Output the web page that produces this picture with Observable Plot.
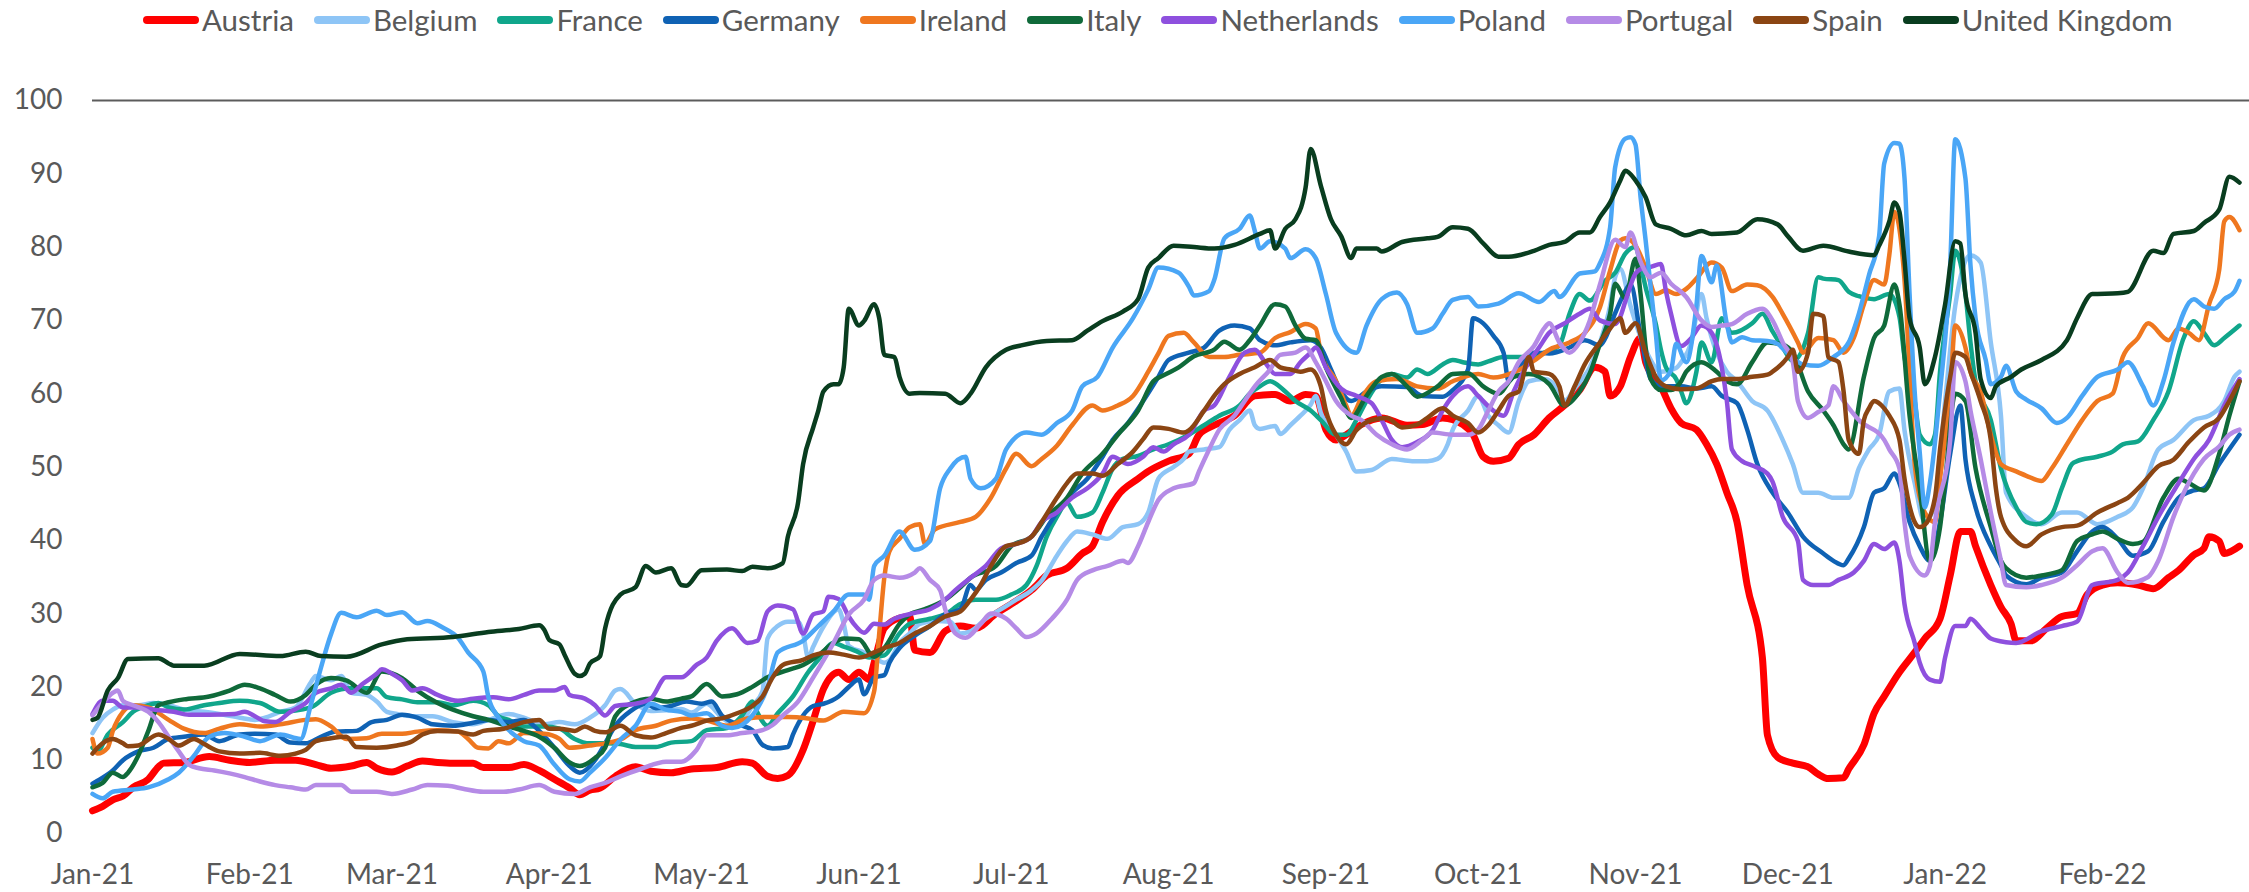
<!DOCTYPE html>
<html><head><meta charset="utf-8">
<script src="https://cdn.jsdelivr.net/npm/d3@7"></script>
<script src="https://cdn.jsdelivr.net/npm/@observablehq/plot@0.6"></script>
<style>
body{margin:0;background:#fff;width:2249px;height:892px;overflow:hidden;font-family:Lato,"Open Sans",sans-serif;}
#legend{height:40px;display:flex;align-items:center;gap:20px;padding-left:143px;box-sizing:border-box;}
.item{display:flex;align-items:center;font-size:29.5px;color:#595959;white-space:nowrap;line-height:40px;}
.sw{width:56px;height:8px;border-radius:4px;margin-right:3px;}
</style></head><body>
<div id="legend"></div><div id="chart"></div>
<script>
// Day offsets from 1 Jan 2021, value
const austria = [[0,3.1],[2,3.7],[4,4.6],[6,5.1],[8,6.3],[11,7.4],[13,9.1],[14,9.6],[18,9.7],[23,10.5],[27,10],[31,9.7],[36,10],[40,10],[44,9.4],[47,8.9],[51,9.2],[54,9.7],[56,8.9],[59,8.4],[62,9.2],[65,9.9],[68,9.7],[71,9.6],[75,9.6],[77,9],[82,9],[85,9.4],[88,8.6],[91,7.4],[94,6.2],[96,5.3],[98,5.9],[100,6.2],[103,7.8],[107,9.1],[110,8.5],[114,8.3],[118,8.8],[123,9],[128,9.8],[130,9.6],[133,7.8],[135,7.5],[137,7.9],[140,11.4],[142,15.4],[144,19.7],[147,22],[149,21],[151,22],[153,21],[154,23.3],[156,28],[159,29.4],[161,29.6],[162,25],[165,24.7],[168,27.6],[171,28.3],[174,28],[178,30],[181,31.3],[185,33.2],[188,35.2],[192,36.2],[195,38.2],[197,39.2],[199,42.5],[202,46.1],[206,48.4],[208,49.4],[212,50.8],[216,51.8],[218,54.4],[221,55.7],[225,57],[229,59.7],[233,59.9],[236,59],[239,59.9],[241,59.7],[243,55.1],[245,53.7],[247,54.4],[250,55.8],[254,56.7],[259,55.7],[262,55.8],[266,56.7],[270,55.8],[272,54.4],[274,51.4],[276,50.8],[279,51.2],[281,53.1],[284,54.4],[287,56.7],[290,58.4],[293,60.5],[296,63.6],[298,63],[299,59.7],[301,61],[303,65],[305,67.6],[306,64.3],[309,61],[311,58],[313,56],[316,55.1],[318,53.1],[320,50.4],[322,46.5],[324,42.5],[326,33.9],[329,24],[330,13.4],[332,10.4],[335,9.6],[338,9.1],[340,8.1],[342,7.5],[345,7.6],[346,8.8],[349,12.1],[351,16.4],[353,18.7],[356,22],[359,24.7],[361,26.6],[364,29.3],[366,35.2],[368,41.2],[370,41.2],[371,39.2],[374,33.9],[376,30.9],[378,28.6],[379,26.3],[382,26.3],[385,28],[388,29.6],[391,30],[393,32.6],[396,33.9],[399,34.2],[403,33.9],[406,33.4],[409,34.9],[411,35.9],[414,38],[416,38.9],[417,40.5],[419,39.9],[420,38.2],[423,39.2]];
const belgium = [[0,13.7],[2,15.8],[4,16.9],[6,17.5],[9,17.5],[12,17.8],[15,17.5],[18,16.9],[22,16.6],[25,16.3],[29,15.8],[32,15.5],[34,15.8],[37,16.6],[40,17.2],[43,20.6],[44,21.5],[47,20.9],[49,21.5],[51,19.2],[54,18.9],[56,18],[58,16.6],[60,16.3],[63,16],[67,16],[71,15.2],[75,14.9],[78,15.5],[82,16.3],[85,15.8],[89,14.9],[92,15.2],[95,14.9],[98,15.8],[101,17.5],[103,19.5],[104,19.7],[107,17.7],[110,16.7],[113,16.8],[116,17],[118,16.5],[121,17.7],[124,15.8],[127,14.7],[130,17.4],[132,19.4],[133,26.6],[135,28.3],[137,28.9],[139,28.9],[140,27.3],[141,24],[142,25.5],[144,28.2],[147,30.6],[148,28.6],[149,25.6],[152,24.7],[154,24],[156,23.3],[157,23.6],[159,26],[161,27.3],[163,28.6],[166,29],[169,28.9],[171,27.3],[173,27.6],[176,29.3],[179,30.6],[182,31.9],[185,33.2],[187,34.5],[190,37.9],[192,39.9],[194,41.2],[197,40.8],[200,40.2],[203,41.8],[206,42.2],[208,43.8],[210,48.4],[213,50],[215,51.1],[216,52.1],[219,52.4],[222,52.7],[224,55.1],[226,56.4],[228,57.7],[229,55.7],[230,55.2],[233,55.6],[234,54.5],[236,55.7],[238,57],[240,58.5],[241,59.7],[242,57.4],[245,54.4],[247,52.1],[249,49.4],[252,49.6],[256,51.1],[260,50.8],[263,50.8],[265,51.1],[267,53.1],[268,55.1],[271,57.7],[273,59.7],[275,57],[277,55.7],[279,54.7],[281,59],[283,61.7],[286,62],[289,60.3],[290,59],[292,60.7],[295,63.6],[297,67],[299,72],[300,75.9],[301,77],[303,72],[306,66],[309,63],[312,63.5],[313,64.3],[315,67],[317,73.6],[318,70.3],[320,65.6],[322,63],[324,61.7],[327,59],[330,57.7],[333,53.7],[335,50.4],[337,46.5],[340,46.5],[343,45.8],[346,45.8],[348,49.8],[350,52.4],[352,54.4],[354,60.3],[356,60.7],[357,55],[359,47.8],[361,42.5],[363,45.1],[365,59],[367,72],[370,78.9],[372,77.9],[374,67],[376,57],[377,46.5],[381,43.2],[384,42.2],[388,43.8],[391,43.8],[395,42.2],[399,43.2],[402,44.5],[404,47.1],[407,52.4],[410,53.7],[414,56.4],[417,57],[420,59],[422,62.3],[423,63]];
const france = [[0,11.7],[1,11.2],[3,13.5],[6,15.2],[8,16.6],[11,17.5],[13,17.8],[15,17.2],[18,16.9],[22,17.5],[25,17.8],[29,18.1],[33,17.8],[37,16.6],[43,17.2],[47,19.2],[51,19.8],[56,19.8],[58,18.6],[61,18.3],[64,17.9],[68,17.9],[71,17.5],[75,18.1],[78,17.5],[80,16],[82,15.5],[85,14.6],[89,14.6],[92,14.3],[95,12.9],[98,12.3],[101,12.3],[104,12.2],[107,11.8],[111,11.8],[114,12.4],[118,12.6],[121,14.1],[125,14.4],[128,16.1],[130,18],[131,16.5],[133,14.7],[135,16.4],[138,18.7],[141,22],[143,23.7],[146,26],[148,25.5],[151,24.7],[153,24],[156,24.3],[159,27.3],[161,28.6],[165,29.3],[168,29.9],[171,31.3],[174,31.9],[178,31.9],[181,32.6],[184,33.9],[186,36.5],[188,40.5],[190,43.2],[192,45.1],[194,43.2],[197,43.8],[199,46.5],[201,49.8],[203,51.1],[206,51.5],[209,52.4],[212,53.1],[216,54.4],[219,55.7],[222,57],[226,58.4],[228,60],[230,61],[232,61.7],[235,60.3],[237,59],[240,57.7],[242,56.4],[245,54.4],[247,54.4],[249,56.4],[251,59],[254,62],[256,62.7],[259,62.2],[261,63.3],[263,62.7],[266,64],[268,64.6],[270,64.3],[273,64],[275,64.4],[278,65],[283,65],[286,65.6],[289,66.6],[291,70.9],[293,73.6],[295,72.7],[298,75.4],[300,76.5],[302,79.1],[304,80],[305,77.5],[306,74.5],[308,69.5],[309,66],[310,63.6],[312,62],[313,60.3],[314,58.7],[316,63],[317,67],[319,64.3],[321,70.3],[323,68.3],[327,69.6],[329,70.9],[331,68.5],[333,66.3],[335,64.5],[338,68.3],[340,75.9],[341,75.7],[344,75.5],[346,73.9],[348,73.3],[351,72.9],[354,73.6],[356,70.5],[357,65],[359,59],[360,54.4],[362,53.1],[363,54.4],[364,63],[366,73.6],[367,79.5],[369,73.6],[370,67],[371,61.7],[374,56.4],[376,49.8],[379,44.5],[381,42.5],[383,42.2],[386,43.5],[388,47.1],[390,50.4],[391,50.8],[395,51.4],[398,52.1],[400,53.1],[403,53.5],[406,56.4],[409,60.3],[412,67.6],[414,69.9],[416,68.3],[418,66.6],[420,67.6],[423,69.3]];
const germany = [[0,6.8],[1,7.2],[4,8.6],[6,10],[9,11.2],[12,11.7],[15,12.9],[18,13.2],[22,13.5],[25,12.6],[29,13.5],[32,13.6],[36,13.5],[39,12.4],[42,12.3],[45,13.2],[48,13.9],[52,14],[55,15.2],[58,15.5],[61,16.2],[64,15.8],[67,14.9],[71,14.7],[75,15.1],[78,15.5],[82,15.2],[85,15.5],[88,14],[91,11.7],[94,9.2],[96,8.3],[99,10],[101,12.3],[103,14.7],[106,16.7],[109,17.7],[111,17.1],[114,17.4],[117,18],[120,17.7],[122,18],[124,16.1],[126,15.2],[128,14.7],[130,14.1],[132,12.1],[134,11.6],[137,11.8],[138,13.5],[140,16.1],[142,17.4],[144,17.7],[147,18.7],[149,20],[151,21],[152,19],[154,21.3],[156,21.6],[157,23.3],[159,25.3],[162,27],[165,28.3],[168,29.9],[171,30.6],[173,33.9],[174,33.2],[176,34.6],[179,35.6],[182,36.9],[185,37.9],[187,40.5],[190,43.8],[193,46.5],[196,48.4],[199,51.4],[201,53.7],[204,56],[207,59],[210,62.3],[212,64.6],[216,65.6],[219,66.3],[222,68.6],[225,69.3],[228,68.9],[230,67.3],[233,66.6],[236,67],[240,67.3],[242,66.3],[244,63.3],[246,60.3],[248,59],[251,60.3],[254,61],[259,60.9],[262,59.7],[266,59.6],[268,60.5],[271,63.3],[272,70.3],[274,69.6],[276,67.9],[278,65.6],[279,61.7],[281,63.6],[284,65.6],[287,65.5],[291,66.3],[294,67.3],[297,66.6],[298,67.5],[300,71],[302,74],[303,75],[305,68],[307,62],[309,61],[313,61],[316,60.7],[319,61],[321,59.7],[324,58.7],[326,55.1],[328,50.4],[331,46.5],[334,43.8],[337,40.5],[341,38.2],[343,37.2],[345,36.6],[346,37.5],[349,41.8],[351,46.5],[353,47.1],[355,49.1],[356,47.8],[358,42.5],[360,39.2],[362,37.2],[364,42.5],[366,51.8],[368,58.4],[369,51.1],[371,44.5],[374,39.2],[376,36.6],[377,35.2],[381,34],[384,34.9],[388,35.6],[391,38.5],[394,41.2],[396,41.8],[399,40.2],[402,37.9],[405,38.5],[408,42.5],[411,45.8],[414,46.8],[416,47.1],[419,50.4],[423,54.4]];
const ireland = [[0,12.9],[1,10.9],[3,11.7],[4,14],[6,16.6],[8,17.5],[11,17.2],[15,15.5],[18,14.3],[22,13.7],[25,14.3],[29,14.9],[33,14.6],[37,14.9],[42,15.5],[44,15.6],[47,14.6],[50,12.9],[54,13],[57,13.6],[61,13.6],[64,13.9],[68,14.1],[72,13.9],[74,12.9],[76,11.7],[78,11.6],[80,12.6],[82,12.3],[85,13.7],[89,13.6],[92,12.9],[94,11.7],[98,12],[101,12.3],[104,12.8],[107,14.1],[111,14.7],[114,15.4],[118,15.7],[121,15.4],[125,14.7],[129,15.7],[133,15.9],[137,15.9],[141,15.7],[144,15.4],[148,16.6],[152,16.4],[154,19.4],[155,27.3],[156,34.9],[157,38.5],[159,40.2],[161,41.8],[163,42.2],[164,39.5],[166,41.5],[171,42.5],[174,43.2],[177,45.8],[180,49.8],[182,51.8],[185,50.1],[187,51.1],[190,52.9],[193,55.7],[197,58.4],[199,57.7],[202,58.4],[205,59.7],[208,63],[210,65.5],[212,67.9],[215,68.3],[217,67],[220,65],[223,65],[226,65.3],[230,65.6],[233,67.6],[236,68.4],[239,69.5],[241,68.9],[242,65.6],[245,61.7],[247,58.4],[248,57],[250,59.4],[253,61.7],[257,62],[261,61],[265,60.7],[268,61.7],[273,62.7],[276,62.2],[280,62.9],[284,64.5],[287,66],[291,67],[294,68.3],[297,71.8],[299,76.8],[301,80.9],[302,81.2],[304,80.2],[306,77.2],[308,73.6],[310,74.1],[312,73.6],[314,74.3],[316,75.7],[319,77.9],[321,77.2],[323,74],[326,74.9],[328,74.8],[331,73.2],[333,70.9],[336,67],[337,65.6],[340,67.6],[343,67.3],[345,65.6],[347,67.6],[349,72.2],[351,75.5],[353,74.9],[354,78.9],[355,84.8],[357,75.5],[358,63],[359,50.4],[361,43.8],[363,42.5],[364,48.4],[366,60.3],[367,69.3],[369,66.3],[370,63],[372,60.3],[374,54.4],[376,50.4],[379,49.4],[381,48.8],[384,48.1],[386,49.8],[389,53.1],[392,56.4],[395,59],[398,60],[400,65],[403,67.6],[405,69.6],[409,67.3],[411,68.9],[413,68.3],[415,67.3],[417,72.2],[419,76.9],[420,83.5],[421,84.1],[423,82.3]];
const italy = [[0,6.3],[2,6.9],[4,8.3],[6,7.7],[7,8.3],[9,10.6],[11,14],[13,17.5],[15,17.9],[18,18.3],[23,18.7],[27,19.5],[30,20.3],[33,19.8],[36,18.9],[39,18],[42,18.9],[44,20.3],[47,21.2],[50,20.9],[54,19.2],[57,22.1],[61,21.2],[64,19.5],[68,17.8],[71,16.9],[75,16],[78,15.5],[82,14.6],[85,14],[88,13.2],[91,11.7],[94,9.7],[96,9.2],[99,10.3],[101,11.7],[103,16],[106,17.7],[110,18.4],[113,18],[116,18.4],[118,18.7],[121,20.4],[124,18.7],[127,19],[130,20],[133,21.3],[137,22.3],[140,23],[143,24.3],[146,26],[148,26.6],[151,26.5],[154,24.1],[156,25.3],[159,28.6],[161,29.9],[164,30.6],[168,31.9],[171,33.6],[173,34.9],[178,36.5],[181,39.2],[185,40.5],[188,43.2],[192,45.8],[195,49.1],[199,51.8],[202,54.4],[206,57.7],[209,61.7],[211,62.5],[214,63.6],[217,65.1],[221,66],[223,67.1],[226,66],[228,67.3],[230,69.3],[233,72.2],[235,71.9],[237,69.3],[239,67.5],[241,67.3],[243,63.6],[246,59.4],[248,56.7],[251,59.7],[254,62.3],[256,62.7],[259,61],[261,59.6],[265,61],[268,62.7],[271,62.8],[274,61],[277,60],[280,62.3],[283,62.7],[287,61.3],[290,58.4],[293,60.3],[295,62.8],[297,66.8],[299,70.9],[300,75],[302,73],[304,78.4],[305,73.6],[306,66.3],[307,62],[309,60.5],[311,60.5],[313,61.7],[314,63],[317,64.3],[320,63],[322,61.7],[324,61.3],[327,64.3],[330,67],[333,66.7],[335,65.6],[338,60.3],[341,57.7],[343,55.7],[345,53.1],[346,52.4],[349,62.3],[351,67.6],[353,69.3],[355,74.9],[356,72.2],[358,57],[360,47.1],[362,37.2],[364,41.8],[365,48],[367,60],[369,59],[371,49.8],[374,41.8],[376,37.2],[377,36.2],[381,34.9],[384,35.2],[388,35.9],[391,39.9],[394,40.8],[396,41.2],[399,40.2],[402,39.5],[404,39.8],[408,45.8],[411,48.4],[413,47.8],[416,46.8],[419,51.8],[421,57],[423,61.7]];
const netherlands = [[0,16.3],[2,18.1],[4,18.1],[6,17.2],[9,17.2],[12,16.9],[16,16.6],[19,16.2],[23,16.2],[28,16.3],[30,16.6],[32,16],[34,15.3],[36,15.2],[39,16.6],[42,17.8],[44,19.2],[47,19.8],[49,20.3],[51,19.2],[53,20.3],[56,21.8],[57,22.4],[59,21.8],[61,20.9],[63,19.5],[65,19.8],[68,18.9],[72,18.1],[75,18.4],[79,18.6],[82,18.3],[85,18.9],[88,19.5],[91,19.5],[93,20],[94,18.9],[97,18.4],[99,17.5],[101,16.1],[103,17.4],[107,17.7],[110,18.4],[113,21.3],[116,21.3],[119,23],[121,24],[123,26.3],[126,28],[129,26],[131,26.3],[133,30.3],[135,31.1],[138,30.6],[140,27.3],[142,29.9],[144,30.3],[145,32.3],[147,32],[149,29.6],[150,28.6],[152,27.4],[154,28.6],[156,28.5],[158,29.3],[162,30.1],[165,30.6],[168,31.9],[170,33.2],[173,34.9],[176,36.5],[179,38.9],[182,39.5],[185,40.5],[187,42.5],[190,43.8],[193,45.8],[196,47.1],[199,49.1],[201,51.4],[204,50.4],[207,51.4],[209,52.7],[211,52.1],[213,53.1],[216,54.4],[219,57.7],[221,58.4],[224,62.3],[227,65.6],[229,66],[231,64.3],[233,62.7],[236,62.7],[238,64.3],[240,65.6],[241,66.3],[243,63.6],[246,60.7],[249,59.7],[252,58.7],[254,56.4],[256,53.7],[258,52.7],[261,53.4],[264,55],[266,57.7],[268,59.7],[271,61],[273,59.7],[276,57.7],[278,57],[280,60.3],[283,64.3],[285,66.3],[287,68.3],[290,69.6],[293,70.9],[295,71.6],[297,70],[300,69.5],[301,70.5],[302,72.6],[304,76.4],[305,77],[307,77.3],[309,77.7],[310,74],[311,70.9],[313,66.5],[315,67.6],[317,69.3],[319,68.3],[321,63.6],[322,59],[323,52.4],[325,50.8],[327,50.2],[330,49.1],[331,48],[333,43.2],[336,39.9],[337,34.6],[339,33.9],[342,33.9],[344,34.6],[347,35.6],[349,37.2],[351,39.5],[353,38.8],[355,39.7],[356,37.2],[357,31.3],[359,26],[360,23.3],[362,21],[364,20.7],[365,24],[367,28.3],[369,28.3],[370,29.3],[372,28],[374,26.6],[377,26.1],[379,26],[384,27.6],[388,28.3],[391,28.9],[394,33.9],[399,34.6],[401,35.6],[404,39.2],[407,43.2],[411,47.8],[414,51.1],[417,53.7],[420,58.4],[423,62]];
const poland = [[0,5.4],[2,4.8],[4,5.7],[8,6],[11,6.3],[15,7.4],[17,8.3],[20,10.6],[23,13.2],[26,13.7],[30,13.2],[33,12.6],[37,13.5],[41,12.9],[43,17.5],[45,22.6],[47,27.2],[49,30.1],[52,29.5],[56,30.4],[58,29.8],[61,30.2],[64,28.7],[66,29],[69,28.1],[72,26.7],[74,24.7],[77,22.1],[78,18.6],[80,15.8],[83,13.5],[85,12.6],[88,12],[91,9.4],[94,7.4],[96,7.1],[98,8.3],[101,10.3],[104,12.8],[107,14.7],[110,17.7],[113,16.9],[116,16.6],[118,16.1],[121,16.4],[124,14.7],[126,14.4],[130,16.1],[133,20],[135,24.7],[140,26.3],[143,28.3],[146,30.3],[149,32.6],[152,32.6],[153,31.9],[154,36.5],[156,37.9],[159,41.2],[162,38.7],[165,39.9],[167,47.1],[169,49.8],[172,51.4],[173,48.4],[175,47.1],[178,48.4],[180,52.4],[184,54.7],[187,54.4],[190,56],[193,57.7],[195,61],[198,62.3],[201,66.3],[205,70.3],[208,74.2],[210,77.2],[214,76.5],[216,74.6],[217,73.4],[220,74],[221,75.5],[223,81.2],[226,82.5],[228,84.3],[229,82.2],[230,79.8],[232,80.8],[235,79.8],[236,78.5],[239,79.7],[241,78.5],[243,73.6],[245,68.3],[249,65.6],[251,69.3],[254,72.9],[257,73.8],[259,72.2],[261,68.3],[264,68.9],[266,70.9],[268,72.8],[271,73.2],[273,71.9],[277,72.3],[281,73.7],[285,72.5],[288,74],[289,73.2],[293,76.4],[296,76.7],[297,77.8],[299,82.7],[300,90.9],[302,94.8],[303,95],[304,94],[305,86.8],[306,80.9],[307,74.5],[308,68.2],[309,61.8],[311,63.2],[312,66.8],[314,64.3],[316,72],[317,78.8],[319,75.2],[320,77.5],[322,69.5],[323,67],[325,67.7],[327,67.3],[330,67.2],[332,66.8],[334,65.5],[337,64],[340,63.8],[343,65],[346,67],[348,70.9],[350,76.2],[352,81.5],[353,91.4],[355,94.2],[356,94.1],[357,89.4],[358,73.6],[359,60.3],[360,52],[361,44.5],[362,47.8],[364,60.3],[366,77.5],[367,94.7],[369,89.4],[370,77.5],[371,70.3],[373,64.6],[374,61.3],[376,62.3],[377,63.8],[379,60.3],[381,59.2],[384,58],[387,56],[389,56.7],[392,59.7],[395,62.3],[399,63.3],[401,64.3],[404,61],[406,58.4],[408,61.7],[410,67],[414,72.9],[416,71.9],[418,71.6],[420,72.9],[422,73.9],[423,75.4]];
const portugal = [[0,16.1],[2,17.8],[4,19.2],[5,19.5],[6,18.1],[8,17.5],[11,16.6],[13,15.2],[15,13.2],[17,11.2],[19,9.4],[21,8.9],[24,8.6],[27,8.2],[30,7.7],[33,7.1],[36,6.6],[39,6.3],[42,6],[44,6.6],[49,6.6],[51,5.7],[56,5.7],[59,5.4],[63,6],[66,6.6],[70,6.5],[73,6.1],[77,5.7],[81,5.7],[84,6],[88,6.6],[91,5.7],[95,5.4],[98,6.3],[101,6.9],[104,7.8],[108,8.8],[113,9.8],[116,9.8],[119,11.4],[121,13.4],[125,13.4],[128,13.7],[132,14.1],[134,14.8],[136,16.1],[139,18],[142,21.3],[146,26],[149,29.9],[152,31.9],[154,34.6],[156,35.2],[159,34.9],[162,35.6],[163,36.2],[165,34.6],[167,33.2],[168,30.6],[170,27.3],[172,26.7],[175,28.6],[177,30],[180,29.3],[182,28],[184,26.8],[186,27.3],[189,29.3],[192,31.9],[194,34.6],[197,35.9],[200,36.5],[203,37.2],[204,36.9],[206,39.2],[208,42.5],[210,45.5],[213,47.1],[217,47.8],[218,49.4],[220,52.4],[222,55.1],[225,57],[227,59],[229,61],[232,63.3],[234,65.3],[237,65.6],[239,66.3],[241,64.3],[243,61.7],[245,59],[248,57],[250,56.4],[253,54.4],[256,53.1],[259,52.4],[262,53.7],[264,54.7],[268,54.4],[271,54.4],[273,55.1],[275,57.7],[277,60.3],[279,61.7],[281,64.3],[284,66.5],[286,68.9],[287,69.6],[289,67],[291,65.6],[293,67],[295,70],[297,74.9],[300,81],[302,80],[303,82],[305,78],[307,75.9],[309,76.5],[311,75],[314,73.2],[317,70],[319,69.1],[321,69.3],[323,69.5],[326,70.9],[329,71.6],[331,70],[333,67],[335,64.3],[336,59],[338,56.7],[340,57.5],[342,58.4],[343,61],[345,59],[348,56.4],[353,53.7],[354,52.4],[356,49.8],[357,42.5],[358,37.9],[361,35.2],[362,36.5],[363,42.5],[366,53.7],[367,64.3],[369,61.7],[370,57.7],[372,51.1],[374,43.8],[376,37.2],[377,33.9],[381,33.6],[384,33.9],[388,34.9],[391,36.6],[394,38.5],[396,38.9],[399,35.6],[401,34.2],[405,35],[407,37.2],[410,43.2],[414,49.1],[416,51.1],[419,52.8],[421,54.4],[423,55.1]];
const spain = [[0,10.9],[1,11.7],[4,12.9],[6,12.3],[7,11.9],[9,12],[13,13.5],[15,12.9],[17,12],[20,12.9],[22,12.2],[25,11.2],[29,10.9],[33,11],[37,10.6],[40,10.9],[42,11.4],[44,12.6],[47,13],[50,13.2],[52,11.8],[56,11.7],[60,12],[63,12.6],[65,13.5],[68,14],[72,13.9],[75,13.5],[77,14],[81,14.3],[85,15.2],[88,15.5],[90,14.3],[92,14.3],[95,14],[97,14.6],[99,14],[101,13.8],[104,14.7],[107,13.4],[110,13.1],[113,13.7],[116,14.4],[118,14.7],[121,15.4],[124,15.7],[127,16.4],[130,17.4],[132,18.7],[134,21.3],[136,23],[140,23.7],[142,24.3],[145,24.7],[148,24.4],[151,24],[154,24.7],[156,25.3],[159,26],[162,27.3],[165,28.3],[168,29.6],[171,30.3],[173,31.9],[175,33.9],[177,36.5],[180,39.2],[182,39.5],[185,40.5],[187,42.5],[190,45.8],[192,47.8],[194,49.1],[197,49.1],[199,48.8],[202,50.4],[205,52.1],[207,53.8],[209,55.4],[212,55.2],[215,54.7],[216,55],[219,57.7],[221,59.7],[223,61.3],[226,62.7],[229,63.6],[232,64.6],[234,63.6],[236,63.3],[238,63],[240,63.3],[242,61],[243,57.7],[245,54.4],[247,53.1],[249,55],[252,56.4],[255,56.7],[258,55.4],[261,55.8],[263,56.7],[266,58],[268,57],[271,56],[273,54.7],[275,55.7],[277,57.7],[279,59.7],[281,60.3],[283,65],[284,63],[287,62.7],[289,61],[290,58.4],[292,61],[294,64],[297,67],[299,68.9],[301,70.3],[302,68.3],[304,69.6],[306,65.6],[308,62.3],[310,61],[313,60.6],[316,60.7],[319,61.7],[321,62],[324,62],[327,62.3],[330,62.6],[331,63],[334,65],[335,66],[336,63],[338,65.6],[339,70.9],[341,70.6],[342,65],[344,64.3],[345,60.3],[346,53.7],[348,51.8],[349,56.4],[350,58],[351,59],[353,58],[354,57],[356,53.7],[357,48.4],[359,42.5],[360,41.8],[361,42.1],[363,45.8],[364,52.4],[366,62.3],[367,65.6],[369,65],[370,63],[372,59],[374,53.7],[375,47.1],[376,43.2],[379,39.9],[381,39.2],[384,40.8],[388,41.8],[391,42],[395,43.8],[399,45.1],[401,45.8],[404,47.8],[407,50.1],[410,51],[413,53.4],[416,55.4],[419,56.7],[421,59],[423,61.7]];
const unitedKingdom = [[0,15.5],[1,15.8],[3,19.5],[5,21.2],[7,23.8],[13,23.9],[15,23.2],[16,22.9],[22,22.9],[29,24.5],[37,24.2],[42,24.8],[45,24.2],[50,24.1],[57,25.8],[62,26.5],[71,26.8],[78,27.5],[84,27.9],[88,28.4],[89,27.8],[90,26.4],[92,25.8],[93,24.4],[95,21.8],[96,21.5],[97,21.8],[98,23.2],[100,24.2],[101,28],[104,32.6],[107,33.6],[109,36.5],[111,35.6],[114,36.2],[116,33.9],[117,33.8],[120,35.9],[125,36],[128,35.8],[130,36.4],[133,36.2],[136,36.9],[137,40.5],[139,45.1],[140,50.4],[142,55.4],[143,57.7],[144,60.3],[146,61.3],[147,61.3],[148,63.6],[149,71.6],[151,69.3],[152,69.9],[154,72.2],[155,70.3],[156,65.3],[158,65],[159,62.3],[161,60],[163,60.1],[168,60],[171,58.7],[173,60],[176,63.6],[180,66],[183,66.6],[188,67.2],[193,67.3],[196,68.6],[199,69.9],[203,71.2],[206,72.9],[208,77.2],[210,78.5],[213,80.2],[217,80],[221,79.8],[225,80.3],[230,81.8],[232,82.3],[233,79.8],[235,82.5],[237,83.8],[239,88.1],[240,93.4],[242,88.4],[244,83.8],[246,81.5],[248,78.5],[249,79.8],[253,79.8],[254,79.4],[258,80.7],[263,81.2],[265,81.4],[268,82.7],[271,82.5],[274,80.5],[277,78.7],[279,78.7],[284,79.5],[287,80.3],[290,80.7],[293,82],[295,82],[297,84.1],[299,86.1],[301,89.1],[302,90.4],[304,89.1],[306,86.8],[308,83.1],[311,82.5],[314,81.6],[317,82.2],[319,81.8],[324,82],[328,83.8],[332,83.1],[334,81.5],[337,79.5],[341,80.2],[346,79.4],[351,78.9],[352,80.2],[354,83.5],[355,86.1],[356,84.8],[357,78.2],[358,70.3],[360,66.3],[361,61.3],[363,65],[365,72.2],[367,80.8],[368,80.5],[369,73.6],[371,68.3],[372,62],[374,59.4],[375,61],[378,62.3],[380,63.3],[384,64.6],[389,67.3],[391,70.3],[394,73.6],[399,73.7],[401,73.9],[406,79.5],[408,79.2],[410,81.8],[414,82.2],[416,83.3],[419,85.1],[421,89.6],[423,88.8]];

const countries = ["Austria","Belgium","France","Germany","Ireland","Italy","Netherlands","Poland","Portugal","Spain","United Kingdom"];
const colors = ["#FF0000","#8EC5F6","#10A68B","#0F62B4","#EF771F","#0F6A3A","#8E50DE","#4AA6F6","#B58BE6","#8B4513","#093D1F"];
const series = [austria,belgium,france,germany,ireland,italy,netherlands,poland,portugal,spain,unitedKingdom];
const monthTicks = ["2021-01-01","2021-02-01","2021-03-01","2021-04-01","2021-05-01","2021-06-01","2021-07-01","2021-08-01","2021-09-01","2021-10-01","2021-11-01","2021-12-01","2022-01-01","2022-02-01"];
const yTicks = [0,10,20,30,40,50,60,70,80,90,100];
const startDate = "2021-01-01", endDate = "2022-02-28";

const base = new Date(startDate + "T00:00:00Z");
const toDate = d => d3.utcDay.offset(base, d);
const rows = [];
countries.forEach((c, i) => series[i].forEach(([d, v]) => rows.push({country: c, date: toDate(d), value: v})));

// legend
const legend = document.getElementById("legend");
countries.forEach((c, i) => {
  const it = document.createElement("div"); it.className = "item";
  const sw = document.createElement("div"); sw.className = "sw"; sw.style.background = colors[i];
  it.appendChild(sw); it.appendChild(document.createTextNode(c));
  legend.appendChild(it);
});

const marks = [Plot.ruleY([100], {stroke: "#5c5c5c", strokeWidth: 2, insetRight: -10})];
countries.forEach((c, i) => {
  marks.push(Plot.line(rows.filter(r => r.country === c), {
    x: "date", y: "value", stroke: colors[i],
    strokeWidth: c === "Austria" ? 7 : 4.5,
    curve: "monotone-x", strokeLinejoin: "round", strokeLinecap: "round"
  }));
});

const chart = Plot.plot({
  width: 2249, height: 852,
  marginLeft: 92, marginRight: 10, marginTop: 60, marginBottom: 59,
  style: {fontFamily: "Lato, 'Open Sans', sans-serif", fontSize: "28px", color: "#595959", background: "#fff", overflow: "visible"},
  x: {type: "utc", domain: [new Date(startDate + "T00:00:00Z"), new Date(endDate + "T00:00:00Z")],
      ticks: monthTicks.map(s => new Date(s + "T00:00:00Z")), tickFormat: d3.utcFormat("%b-%y"),
      tickSize: 0, tickPadding: 31, label: null},
  y: {domain: [0, 100], ticks: yTicks, tickSize: 0, tickPadding: 30, label: null},
  marks
});
document.getElementById("chart").appendChild(chart);
</script></body></html>
